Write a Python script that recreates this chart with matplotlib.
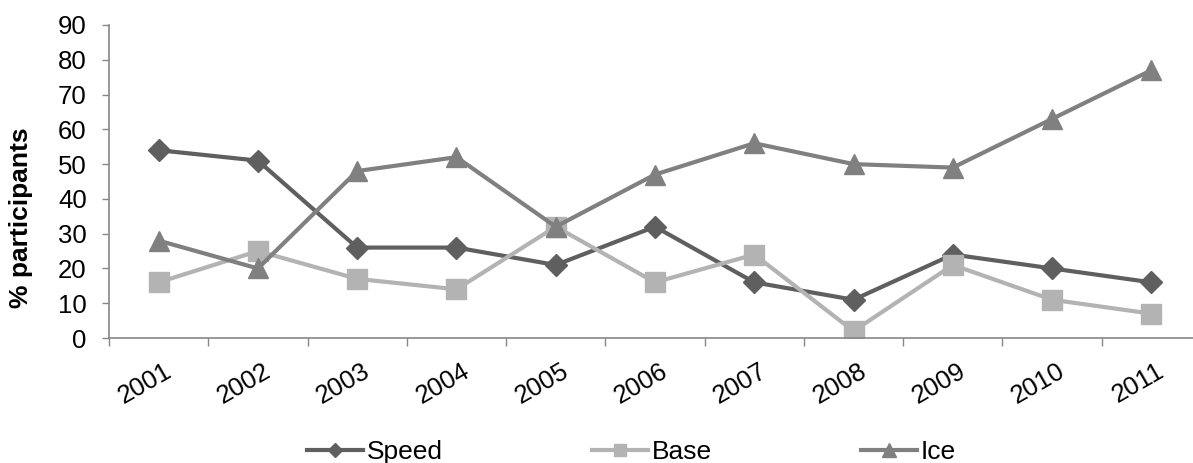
import numpy as np
import matplotlib.pyplot as plt
from matplotlib.transforms import ScaledTranslation

plt.rcParams['font.family'] = ['Liberation Sans', 'DejaVu Sans']

years = ['2001', '2002', '2003', '2004', '2005', '2006', '2007', '2008', '2009', '2010', '2011']
speed = [54, 51, 26, 26, 21, 32, 16, 11, 24, 20, 16]
base = [16, 25, 17, 14, 32, 16, 24, 2, 21, 11, 7]
ice = [28, 20, 48, 52, 32, 47, 56, 50, 49, 63, 77]

W, H = 1193, 463
fig = plt.figure(figsize=(W / 100, H / 100), dpi=100)
ax = fig.add_axes([109 / W, 125 / H, 1092 / W, 313 / H])

x = np.arange(len(years))
ax.plot(x, speed, color='#5f5f5f', lw=3, marker='D', ms=11, label='Speed')
ax.plot(x, base, color='#b3b3b3', lw=3, marker='s', ms=14, label='Base')
ax.plot(x, ice, color='#808080', lw=3, marker='^', ms=15, label='Ice')

ax.set_xlim(-0.5, len(years) - 0.5)
ax.set_ylim(0, 90)
ax.set_yticks(range(0, 91, 10))
ax.tick_params(axis='y', labelsize=18.5, length=5, color='#888888', width=1, pad=11)

# year labels: right end sits just past the category centre
ax.set_xticks(x)
ax.set_xticklabels(years, rotation=30, fontsize=18.5, ha='right', va='top',
                   rotation_mode='anchor')
ax.tick_params(axis='x', which='major', length=0, pad=15)
shift = ScaledTranslation(5 / 100, 0, fig.dpi_scale_trans)
for lbl in ax.get_xticklabels():
    lbl.set_transform(lbl.get_transform() + shift)
ax.set_xticks(np.arange(-0.5, len(years), 1), minor=True)
ax.tick_params(axis='x', which='minor', length=6, color='#888888', width=1, direction='out')

for side in ['top', 'right']:
    ax.spines[side].set_visible(False)
for side in ['left', 'bottom']:
    ax.spines[side].set_color('#888888')
    ax.spines[side].set_linewidth(1.2)

ax.set_ylabel('% participants', fontsize=19, fontweight='bold')
ax.yaxis.set_label_coords(-0.0696, 0.385)

fig.legend(loc='center left', bbox_to_anchor=(307 / W, 11 / H), ncol=3, frameon=False,
           borderpad=0, borderaxespad=0, fontsize=19, handlelength=2.12,
           handletextpad=0.15, columnspacing=5.65, markerscale=0.65)

fig.savefig('out.png', dpi=100)
